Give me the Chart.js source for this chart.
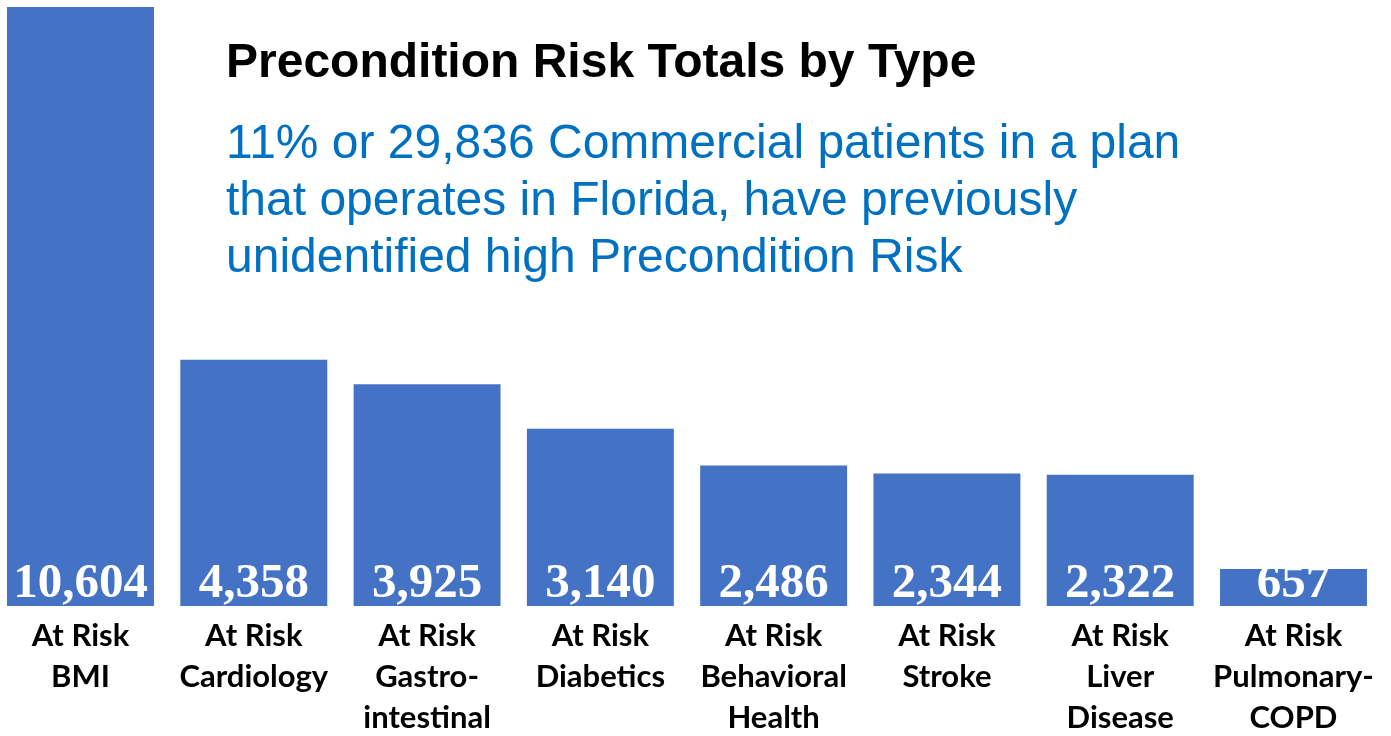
<!DOCTYPE html>
<html>
<head>
<meta charset="utf-8">
<script src="https://cdn.jsdelivr.net/npm/chart.js@4/dist/chart.umd.min.js"></script>
<style>
  html, body { margin: 0; padding: 0; background: #ffffff; width: 1391px; height: 736px; overflow: hidden; position: relative; }
  #wrap { position: absolute; left: -10px; top: 0; width: 1401px; height: 736px; }
  #title { position: absolute; left: 226px; top: 33px; font-family: "Liberation Sans", Arial, sans-serif; font-weight: bold; font-size: 48px; color: #000; white-space: nowrap; line-height: 56px; }
  #sub { position: absolute; left: 226px; top: 113px; font-family: "Liberation Sans", Arial, sans-serif; font-size: 48px; color: #0070C0; line-height: 57px; white-space: nowrap; }
</style>
</head>
<body>
<div id="wrap"><canvas id="c" width="1401" height="736"></canvas></div>
<div id="title">Precondition Risk Totals by Type</div>
<div id="sub">11% or 29,836 Commercial patients in a plan<br>that operates in Florida, have previously<br>unidentified high Precondition Risk</div>
<script>
const categories = [
  ["At Risk", "BMI"],
  ["At Risk", "Cardiology"],
  ["At Risk", "Gastro-", "intestinal"],
  ["At Risk", "Diabetics"],
  ["At Risk", "Behavioral", "Health"],
  ["At Risk", "Stroke"],
  ["At Risk", "Liver", "Disease"],
  ["At Risk", "Pulmonary-", "COPD"]
];
const values = [10604, 4358, 3925, 3140, 2486, 2344, 2322, 657];
const barColor = "#4472C4";

const labelPlugin = {
  id: "labels",
  afterDatasetsDraw(chart) {
    const ctx = chart.ctx;
    const meta = chart.getDatasetMeta(0);
    const xScale = chart.scales.x;
    const bottom = chart.chartArea.bottom;
    ctx.save();
    ctx.textAlign = "center";
    ctx.textBaseline = "alphabetic";
    meta.data.forEach((bar, i) => {
      ctx.fillStyle = "#ffffff";
      ctx.font = "bold 49px 'Liberation Serif', 'Times New Roman', serif";
      ctx.fillText(values[i].toLocaleString("en-US"), bar.x, bottom - 9);
    });
    ctx.fillStyle = "#000000";
    ctx.font = "bold 31px Lato, 'Open Sans', sans-serif";
    ctx.textBaseline = "middle";
    categories.forEach((lines, i) => {
      const x = xScale.getPixelForValue(i);
      lines.forEach((ln, j) => {
        ctx.fillText(ln, x, 636 + j * 41);
      });
    });
    ctx.restore();
  }
};

new Chart(document.getElementById("c"), {
  type: "bar",
  data: {
    labels: categories.map(c => c.join(" ")),
    datasets: [{
      data: values,
      backgroundColor: barColor,
      borderWidth: 0,
      categoryPercentage: 1.0,
      barPercentage: 0.848
    }]
  },
  options: {
    responsive: false,
    animation: false,
    events: [],
    layout: { padding: { left: 3.86, right: 10.86, top: 7, bottom: 130 } },
    plugins: { legend: { display: false }, tooltip: { enabled: false }, title: { display: false } },
    scales: {
      x: { display: false },
      y: { display: false, min: 0, max: Math.max(...values) }
    }
  },
  plugins: [labelPlugin]
});
</script>
</body>
</html>
